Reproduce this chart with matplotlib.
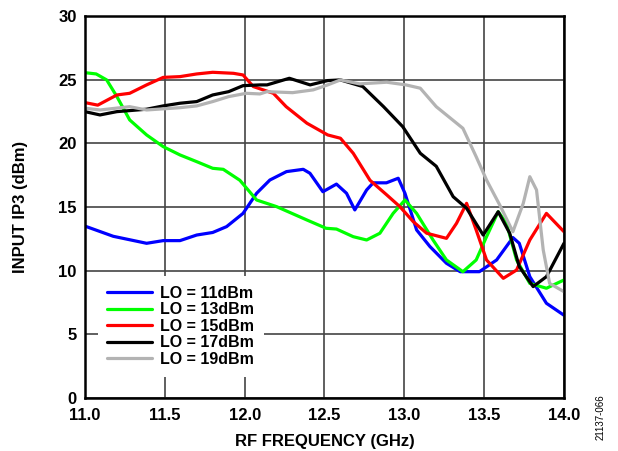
import matplotlib.pyplot as plt

plt.rcParams['font.family'] = ['Liberation Sans', 'DejaVu Sans']
plt.rcParams['font.weight'] = 'bold'

# LO = 11dBm
f11 = [11.0, 11.177, 11.386, 11.49, 11.595, 11.7, 11.8, 11.887, 11.99, 12.075,
       12.158, 12.262, 12.367, 12.409, 12.49, 12.575, 12.638, 12.69, 12.764, 12.805,
       12.888, 12.962, 13.004, 13.077, 13.16, 13.264, 13.35, 13.47, 13.578, 13.68,
       13.72, 13.786, 13.89, 14.0]
ip11 = [13.5, 12.7, 12.15, 12.36, 12.36, 12.8, 13.0, 13.46, 14.5, 16.08,
        17.12, 17.78, 17.96, 17.65, 16.2, 16.8, 16.08, 14.77, 16.34, 16.9,
        16.9, 17.26, 16.08, 13.2, 11.9, 10.58, 9.92, 9.92, 10.84, 12.6,
        12.15, 9.53, 7.44, 6.5]

# LO = 13dBm
f13 = [11.0, 11.07, 11.136, 11.2, 11.28, 11.386, 11.49, 11.595, 11.7, 11.8,
       11.866, 11.97, 12.075, 12.2, 12.39, 12.51, 12.575, 12.68, 12.764, 12.847,
       12.93, 13.004, 13.077, 13.18, 13.264, 13.367, 13.45, 13.515, 13.588, 13.64,
       13.703, 13.786, 13.89, 14.0]
ip13 = [25.55, 25.45, 24.98, 23.67, 21.84, 20.66, 19.74, 19.09, 18.56, 18.04,
        17.96, 17.1, 15.55, 15.03, 13.98, 13.33, 13.27, 12.67, 12.41, 12.94,
        14.5, 15.55, 14.5, 12.41, 10.84, 9.92, 10.84, 12.67, 14.63, 13.72,
        10.84, 9.0, 8.62, 9.27]

# LO = 15dBm
f15 = [11.0, 11.08, 11.2, 11.28, 11.386, 11.49, 11.595, 11.7, 11.8, 11.93,
       11.99, 12.054, 12.18, 12.26, 12.39, 12.52, 12.6, 12.68, 12.785, 12.89,
       12.972, 13.056, 13.14, 13.264, 13.327, 13.39, 13.45, 13.515, 13.62, 13.703,
       13.786, 13.89, 14.0]
ip15 = [23.2, 23.0, 23.8, 23.93, 24.59, 25.18, 25.24, 25.45, 25.58, 25.5,
        25.37, 24.46, 23.93, 22.88, 21.58, 20.66, 20.4, 19.22, 17.1, 15.95,
        15.03, 13.85, 12.94, 12.54, 13.72, 15.29, 13.2, 10.84, 9.4, 10.05,
        12.41, 14.5, 13.06]

# LO = 17dBm
f17 = [11.0, 11.094, 11.2, 11.386, 11.49, 11.595, 11.7, 11.8, 11.9, 11.99,
       12.096, 12.14, 12.28, 12.41, 12.52, 12.6, 12.74, 12.87, 12.99, 13.1,
       13.2, 13.306, 13.39, 13.494, 13.588, 13.66, 13.72, 13.807, 13.89, 14.0]
ip17 = [22.49, 22.23, 22.49, 22.68, 22.94, 23.15, 23.28, 23.8, 24.06, 24.53,
        24.59, 24.59, 25.11, 24.59, 24.93, 24.98, 24.46, 22.88, 21.31, 19.22,
        18.2, 15.81, 14.9, 12.8, 14.63, 12.94, 10.32, 8.75, 9.53, 12.15]

# LO = 19dBm
f19 = [11.0, 11.094, 11.28, 11.386, 11.595, 11.7, 11.8, 11.9, 12.01, 12.096,
       12.14, 12.3, 12.43, 12.52, 12.6, 12.72, 12.89, 13.01, 13.1, 13.2,
       13.367, 13.45, 13.515, 13.6, 13.68, 13.745, 13.786, 13.828, 13.87, 13.91,
       14.0]
ip19 = [22.76, 22.62, 22.88, 22.62, 22.8, 22.94, 23.28, 23.67, 23.93, 23.88,
        24.06, 23.98, 24.2, 24.59, 24.98, 24.67, 24.8, 24.59, 24.33, 22.88,
        21.18, 18.95, 17.12, 15.1, 13.06, 15.29, 17.38, 16.34, 11.63, 9.0,
        8.35]

labels = ['LO = 11dBm', 'LO = 13dBm', 'LO = 15dBm', 'LO = 17dBm', 'LO = 19dBm']
colors = ['#0000ff', '#00ff00', '#ff0000', '#000000', '#b3b3b3']

fig = plt.figure(figsize=(6.18, 4.51), dpi=100)
ax = fig.add_axes([0.1375, 0.1175, 0.7751, 0.847])

series = [(f11, ip11), (f13, ip13), (f15, ip15), (f17, ip17), (f19, ip19)]
for (f, ip), lab, c in zip(series, labels, colors):
    ax.plot(f, ip, color=c, lw=2.3, label=lab, solid_capstyle='round',
            solid_joinstyle='round')

ax.set_xlim(11.0, 14.0)
ax.set_ylim(0, 30)
ax.set_xticks([11.0, 11.5, 12.0, 12.5, 13.0, 13.5, 14.0])
ax.set_xticklabels(['11.0', '11.5', '12.0', '12.5', '13.0', '13.5', '14.0'])
ax.set_yticks(range(0, 31, 5))
ax.tick_params(axis='x', length=0, labelsize=12, pad=7)
ax.tick_params(axis='y', length=0, labelsize=12, pad=6)
for t in ax.get_xticklabels() + ax.get_yticklabels():
    t.set_fontweight('bold')
ax.grid(True, color='#444444', lw=1.2)
ax.set_axisbelow(True)
for s in ax.spines.values():
    s.set_linewidth(1.8)

ax.set_xlabel('RF FREQUENCY (GHz)', fontsize=12, fontweight='bold', labelpad=8)
ax.set_ylabel('INPUT IP3 (dBm)', fontsize=12, fontweight='bold', labelpad=22)

leg = ax.legend(loc='lower left', bbox_to_anchor=(0.01, 0.035), frameon=True,
                fancybox=False, edgecolor='none', framealpha=1,
                handlelength=2.8, handletextpad=0.5, labelspacing=0.1,
                borderpad=0.6, prop={'weight': 'bold', 'size': 11.5})

fig.text(0.972, 0.075, '21137-066', rotation=90, fontsize=7, fontweight='normal',
         ha='center', va='center')

fig.savefig('out.png', dpi=100)
